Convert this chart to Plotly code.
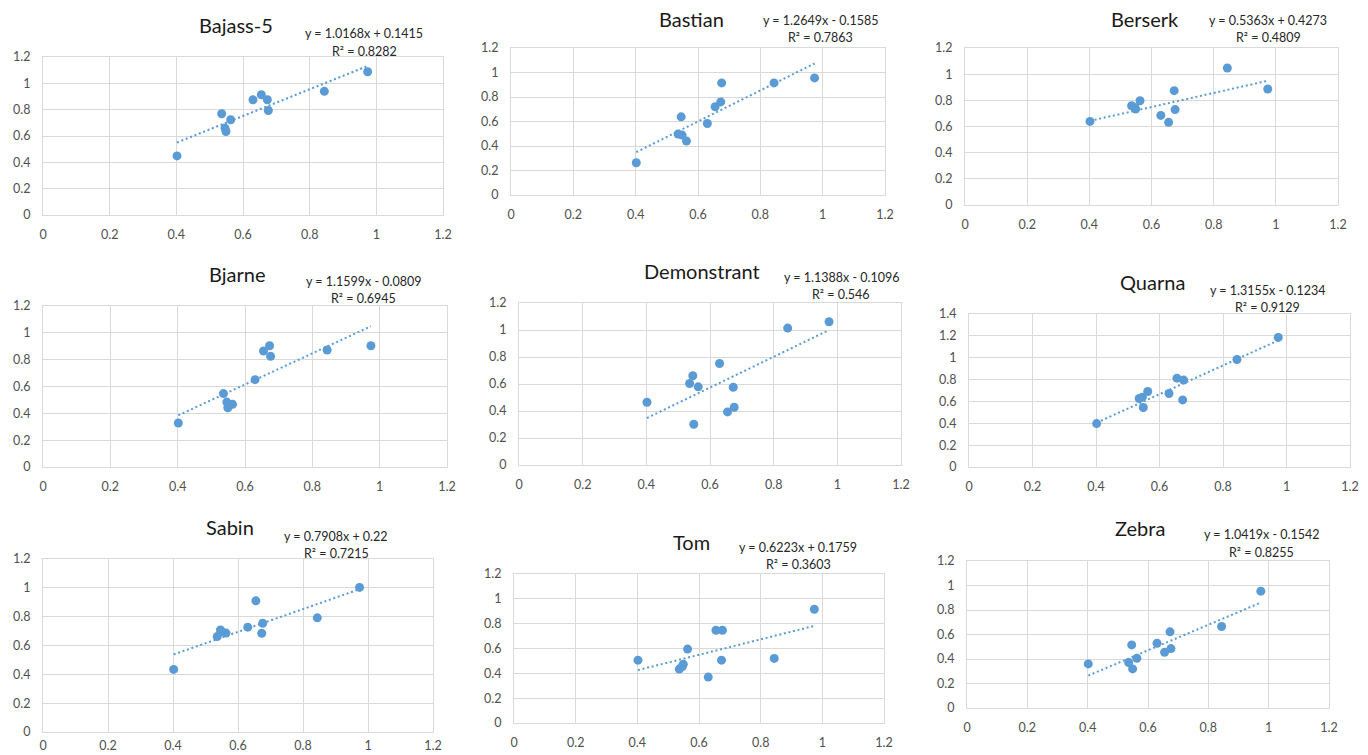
import plotly.graph_objects as go

# Shared x values (same for every panel)
x_vals = [0.402, 0.536, 0.546, 0.549, 0.563, 0.630, 0.655, 0.673, 0.676, 0.844, 0.974]

names = ["Bajass-5", "Bastian", "Berserk", "Bjarne", "Demonstrant", "Quarna", "Sabin", "Tom", "Zebra"]

y_bajass = [0.449, 0.769, 0.660, 0.634, 0.723, 0.875, 0.913, 0.875, 0.794, 0.939, 1.088]
y_bastian = [0.263, 0.497, 0.638, 0.489, 0.440, 0.584, 0.720, 0.760, 0.915, 0.915, 0.956]
y_berserk = [0.639, 0.759, 0.745, 0.734, 0.797, 0.685, 0.632, 0.874, 0.729, 1.047, 0.887]
y_bjarne = [0.328, 0.547, 0.484, 0.442, 0.467, 0.651, 0.865, 0.904, 0.825, 0.872, 0.904]
y_demonstrant = [0.465, 0.604, 0.661, 0.302, 0.579, 0.752, 0.393, 0.576, 0.428, 1.014, 1.061]
y_quarna = [0.397, 0.627, 0.639, 0.544, 0.691, 0.673, 0.813, 0.614, 0.795, 0.984, 1.186]
y_sabin = [0.434, 0.662, 0.708, 0.695, 0.686, 0.727, 0.910, 0.685, 0.754, 0.792, 1.003]
y_tom = [0.506, 0.434, 0.455, 0.474, 0.595, 0.370, 0.747, 0.506, 0.747, 0.520, 0.916]
y_zebra = [0.360, 0.371, 0.515, 0.319, 0.406, 0.529, 0.455, 0.622, 0.485, 0.665, 0.954]

series = [y_bajass, y_bastian, y_berserk, y_bjarne, y_demonstrant, y_quarna, y_sabin, y_tom, y_zebra]

slopes = [1.0168, 1.2649, 0.5363, 1.1599, 1.1388, 1.3155, 0.7908, 0.6223, 1.0419]
intercepts = [0.1415, -0.1585, 0.4273, -0.0809, -0.1096, -0.1234, 0.22, 0.1759, -0.1542]
r2_labels = ["0.8282", "0.7863", "0.4809", "0.6945", "0.546", "0.9129", "0.7215", "0.3603", "0.8255"]
y_max = [1.2, 1.2, 1.2, 1.2, 1.2, 1.4, 1.2, 1.2, 1.2]

# The page body has an 8px margin, so the figure is drawn 8px smaller and
# page-pixel positions are shifted by that offset.
OFF = 8
W, H = 1368 - OFF, 755 - OFF


def px(x):
    return (x - OFF) / W


def py(y):
    return 1 - (y - OFF) / H


# plot-area page-pixel boxes: left, right, top, bottom
boxes = [
    (43, 443, 57, 215),
    (511, 885, 48, 195),
    (965, 1338, 48, 205),
    (43, 447, 306, 467),
    (519, 901, 303, 465),
    (969, 1350, 314, 467),
    (43, 433, 559, 732),
    (514, 884, 574, 723),
    (967, 1329, 561, 708),
]
x_standoff = [8, 8, 8, 8, 8, 8, 2, 8, 8]
# title centre (x, y); equation centre x, first-line y, second-line y
title_pos = [(236, 25), (691, 19), (1145, 19), (237, 274), (702, 271), (1152, 282), (230, 527), (691, 542), (1140, 528)]
eq_pos = [(364, 34, 52), (820, 21, 37), (1268, 21, 37), (363, 281, 299), (841, 277, 294),
          (1267, 290, 307), (336, 536, 553), (798, 547, 564), (1261, 534, 552)]

FONT = "Lato, 'Open Sans', sans-serif"
BLUE = "#5B9BD5"
GRID = "#D9D9D9"

fig = go.Figure()
annotations = []

for i in range(9):
    ax = "" if i == 0 else str(i + 1)
    xs = x_vals
    ys = series[i]
    fig.add_trace(go.Scatter(
        x=xs, y=ys, mode="markers",
        marker=dict(color=BLUE, size=9),
        xaxis="x" + ax, yaxis="y" + ax, showlegend=False, hoverinfo="x+y"))
    x0, x1 = min(xs), max(xs)
    fig.add_trace(go.Scatter(
        x=[x0, x1], y=[slopes[i] * x0 + intercepts[i], slopes[i] * x1 + intercepts[i]],
        mode="lines", line=dict(color=BLUE, width=2, dash="2px,2.7px"),
        xaxis="x" + ax, yaxis="y" + ax, showlegend=False, hoverinfo="skip"))

    l, r, t, b = boxes[i]
    common = dict(showgrid=True, gridcolor=GRID, gridwidth=1, zeroline=False,
                  showline=True, linecolor=GRID, linewidth=1, mirror=True,
                  tickfont=dict(family=FONT, size=12.5, color="#505050"), dtick=0.2, tick0=0,
                  fixedrange=True, automargin=False)
    fig.update_layout(**{
        "xaxis" + ax: dict(domain=[px(l), px(r)], range=[0, 1.2], anchor="y" + ax,
                           ticklabelstandoff=x_standoff[i], **common),
        "yaxis" + ax: dict(domain=[py(b), py(t)], range=[0, y_max[i]], anchor="x" + ax,
                           ticklabelstandoff=9, **common),
    })

    tx, ty = title_pos[i]
    annotations.append(dict(text=names[i], x=px(tx), y=py(ty), xref="paper", yref="paper",
                            xanchor="center", yanchor="middle", showarrow=False,
                            font=dict(family=FONT, size=20, color="#1a1a1a")))
    ex, ey1, ey2 = eq_pos[i]
    sign = "+" if intercepts[i] >= 0 else "-"
    eq = f"y = {slopes[i]:.4f}x {sign} {abs(intercepts[i]):.4f}".replace("0.2200", "0.22")
    for txt, yy in ((eq, ey1), (f"R² = {r2_labels[i]}", ey2)):
        annotations.append(dict(text=txt, x=px(ex), y=py(yy),
                                xref="paper", yref="paper", xanchor="center", yanchor="middle",
                                showarrow=False,
                                font=dict(family=FONT, size=12.5, color="#262626")))

fig.update_layout(width=W, height=H, margin=dict(l=0, r=0, t=0, b=0, autoexpand=False),
                  paper_bgcolor="white", plot_bgcolor="white",
                  annotations=annotations, showlegend=False)

fig.write_html("out.html")
